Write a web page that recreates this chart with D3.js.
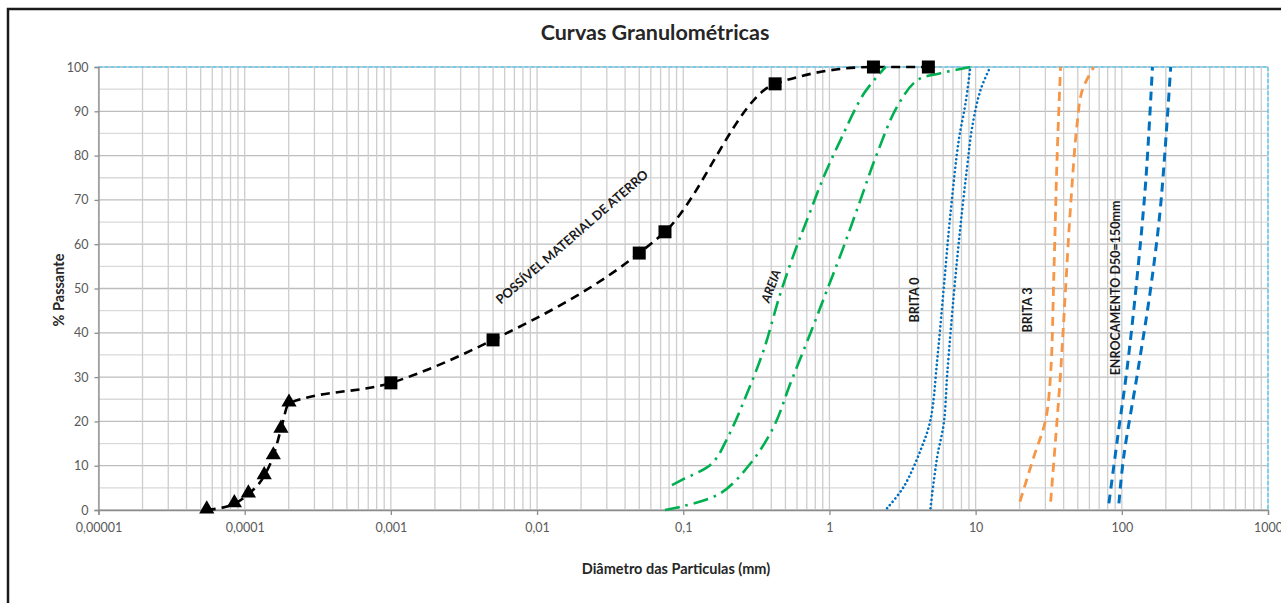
<!DOCTYPE html>
<html>
<head>
<meta charset="utf-8">
<style>
body { margin:0; background:#fff; }
svg text { font-family: Lato, "Open Sans", sans-serif; }
</style>
</head>
<body>
<svg width="1281" height="603"></svg>
<script src="https://d3js.org/d3.v7.min.js"></script>
<script>
// diametros (mm) e % passante
var aterroTriD = [0.000055, 0.000085, 0.000106, 0.000136, 0.000157, 0.000177, 0.000201]
var aterroTriP = [0, 1.4, 3.6, 7.7, 12.2, 18.2, 24.1]
var aterroSqD = [0.001, 0.005, 0.05, 0.075, 0.425, 2.0, 4.75]
var aterroSqP = [28.7, 38.4, 58, 62.8, 96.2, 100, 100]

var areiaFinaD = [0.0837, 0.098, 0.157, 0.205, 0.273, 0.355, 0.462, 0.585, 0.703, 0.914, 1.19, 1.72, 2.42]
var areiaFinaP = [5.6, 6.8, 10.5, 16.9, 26.3, 36.1, 48.9, 58.7, 65.5, 75.2, 83.5, 94, 100]
var areiaGrossaD = [0.075, 0.098, 0.18, 0.288, 0.416, 0.541, 0.741, 0.964, 1.25, 1.63, 2.12, 2.9, 3.98, 5.75, 9.2]
var areiaGrossaP = [0, 0.8, 3.8, 10.5, 18.8, 28.6, 39.9, 49.7, 59.4, 70, 80.5, 91, 97, 98.6, 100]

var brita0aD = [2.48, 3.23, 4.2, 4.91, 5.46, 6.06, 6.73, 7.67, 8.53, 9.2]
var brita0aP = [0.4, 5.3, 13.5, 20.3, 33.9, 50.4, 67, 83.5, 91.8, 100]
var brita0bD = [4.91, 5.46, 6.06, 6.4, 7.1, 7.87, 8.75, 9.48, 10.8, 12.6]
var brita0bP = [0.4, 12, 19.6, 30.9, 48.9, 64, 77.5, 86.5, 94.8, 100]

var brita3aD = [20.1, 25, 30.1, 32.6, 34.3, 36.1, 38.1]
var brita3aP = [1.9, 12, 20.3, 30.9, 53.4, 79.8, 100]
var brita3bD = [32.6, 35.2, 38.1, 41.2, 44.6, 49.5, 53.7, 64.4]
var brita3bP = [1.9, 15.8, 30.9, 49.7, 68.5, 87.3, 94.8, 100]

var enrocaD = [81.6, 93.1, 109, 128, 146, 162]
var enrocaP = [1.5, 15.8, 32.3, 53.4, 74.5, 100]
var enrocbD = [95.5, 103, 128, 157, 184, 216]
var enrocbP = [1.5, 12, 30.9, 49.7, 68.5, 100]

var xTicks = [0.00001, 0.0001, 0.001, 0.01, 0.1, 1, 10, 100, 1000]
var xTickLabels = ["0,00001", "0,0001", "0,001", "0,01", "0,1", "1", "10", "100", "1000"]
var yTicks = [0, 10, 20, 30, 40, 50, 60, 70, 80, 90, 100]

var svg = d3.select('svg')
var L = 98.5, R = 1268, T = 67, B = 510

var x = d3.scaleLog().domain([0.00001, 1000]).range([L, R])
var y = d3.scaleLinear().domain([0, 100]).range([B, T])

// moldura
svg.append('rect').attr('x', 8).attr('y', 9).attr('width', 1300).attr('height', 620)
  .attr('fill', 'none').attr('stroke', '#1a1a1a').attr('stroke-width', 2.5)

// grade
var grid = svg.append('g')
for (var p = 0; p <= 100; p += 5) {
  grid.append('line').attr('x1', L).attr('x2', R).attr('y1', y(p)).attr('y2', y(p))
    .attr('stroke', p % 10 == 0 ? '#bdbdbd' : '#d9d9d9').attr('stroke-width', 1.3)
}
var minor = []
xTicks.slice(0, -1).forEach(function(d) { for (var k = 1; k <= 9; k++) minor.push(d * k) })
minor.push(1000)
grid.selectAll('.vg').data(minor).enter().append('line')
  .attr('x1', function(d) { return x(d) }).attr('x2', function(d) { return x(d) })
  .attr('y1', T).attr('y2', B)
  .attr('stroke', '#cdcdcd').attr('stroke-width', 1.3)

// linhas azul claro no topo e na direita
svg.append('line').attr('x1', L).attr('x2', R).attr('y1', T).attr('y2', T)
  .attr('stroke', '#5ecbf2').attr('stroke-width', 1.5).attr('stroke-dasharray', '4,2')
svg.append('line').attr('x1', R).attr('x2', R).attr('y1', T).attr('y2', B)
  .attr('stroke', '#5ecbf2').attr('stroke-width', 1.5).attr('stroke-dasharray', '4,2')

// eixos
var yAxis = svg.append('g').attr('transform', 'translate(' + L + ',0)')
  .call(d3.axisLeft(y).tickValues(yTicks).tickSize(4).tickPadding(6))
var xAxis = svg.append('g').attr('transform', 'translate(0,' + B + ')')
  .call(d3.axisBottom(x).tickValues(xTicks).tickSize(5).tickPadding(8)
    .tickFormat(function(d, i) { return xTickLabels[i] }))
svg.selectAll('.domain').attr('stroke', '#8c8c8c').attr('stroke-width', 1.3)
svg.selectAll('.tick line').attr('stroke', '#8c8c8c').attr('stroke-width', 1.3)
svg.selectAll('.tick text').attr('fill', '#595959').style('font-size', '12.5px')
  .style('font-family', 'Lato, sans-serif')

// titulos
svg.append('text').attr('x', 655).attr('y', 40).attr('text-anchor', 'middle')
  .style('font-size', '21.5px').style('font-weight', 'bold').attr('fill', '#262626')
  .text('Curvas Granulométricas')
svg.append('text').attr('x', 676).attr('y', 574).attr('text-anchor', 'middle')
  .style('font-size', '14.5px').style('font-weight', 'bold').attr('fill', '#262626')
  .text('Diâmetro das Particulas (mm)')
svg.append('text').attr('transform', 'translate(64,290) rotate(-90)').attr('text-anchor', 'middle')
  .style('font-size', '14.5px').style('font-weight', 'bold').attr('fill', '#262626')
  .text('% Passante')

function zip(ds, ps) { return ds.map(function(d, i) { return [d, ps[i]] }) }
var line = d3.line().x(function(d) { return x(d[0]) }).y(function(d) { return y(d[1]) })
  .curve(d3.curveCatmullRom.alpha(0.5))
var lineMono = d3.line().x(function(d) { return x(d[0]) }).y(function(d) { return y(d[1]) })
  .curve(d3.curveMonotoneX)

function curve(pts, color, dash, w, cap, gen) {
  svg.append('path').attr('d', (gen || line)(pts)).attr('fill', 'none')
    .attr('stroke', color).attr('stroke-width', w).attr('stroke-dasharray', dash)
    .attr('stroke-linecap', cap || 'butt')
}

var aterro = zip(aterroTriD, aterroTriP).concat(zip(aterroSqD, aterroSqP))
curve(aterro, '#000', '9,6', 2.6, 'butt', lineMono)
curve(zip(areiaFinaD, areiaFinaP), '#00b050', '15,6,2.5,6', 2.6)
curve(zip(areiaGrossaD, areiaGrossaP), '#00b050', '15,6,2.5,6', 2.6)
curve(zip(brita0aD, brita0aP), '#0070c0', '0.1,4.2', 2.6, 'round')
curve(zip(brita0bD, brita0bP), '#0070c0', '0.1,4.2', 2.6, 'round')
curve(zip(brita3aD, brita3aP), '#f79646', '9,6', 2.8)
curve(zip(brita3bD, brita3bP), '#f79646', '9,6', 2.8)
curve(zip(enrocaD, enrocaP), '#0070c0', '9,6', 3)
curve(zip(enrocbD, enrocbP), '#0070c0', '9,6', 3)

// marcadores
svg.selectAll('.sq').data(zip(aterroSqD, aterroSqP)).enter().append('rect')
  .attr('x', function(d) { return x(d[0]) - 6.5 }).attr('y', function(d) { return y(d[1]) - 6.5 })
  .attr('width', 13).attr('height', 13).attr('fill', '#000')
svg.selectAll('.tri').data(zip(aterroTriD, aterroTriP)).enter().append('path')
  .attr('d', d3.symbol().type(d3.symbolTriangle).size(100))
  .attr('transform', function(d) { return 'translate(' + x(d[0]) + ',' + (y(d[1]) - 1) + ')' })
  .attr('fill', '#000')

// rotulos das curvas
function label(txt, cx, cy, ang, italic, fs) {
  svg.append('text').attr('transform', 'translate(' + cx + ',' + cy + ') rotate(' + ang + ')')
    .attr('text-anchor', 'middle').attr('dy', '0.35em')
    .style('font-size', (fs || 12.5) + 'px').style('font-weight', 'bold')
    .style('font-style', italic ? 'italic' : 'normal').attr('fill', '#1a1a1a')
    .text(txt)
}
label('POSSÍVEL MATERIAL DE ATERRO', 572, 237, -41, false, 12.8)
label('AREIA', 771, 286, -70, true)
label('BRITA 0', 915, 300, -90)
label('BRITA 3', 1028, 310, -90)
label('ENROCAMENTO  D50=150mm', 1116, 288, -90, false, 12.5)
</script>
</body>
</html>
